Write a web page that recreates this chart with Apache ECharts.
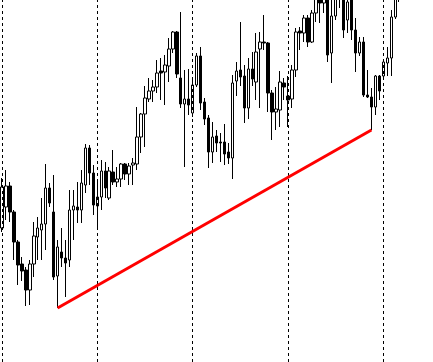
<!DOCTYPE html>
<html>
<head>
<meta charset="utf-8">
<script src="https://cdn.jsdelivr.net/npm/echarts@6/dist/echarts.min.js"></script>
<style>
html,body{margin:0;padding:0;background:#fff;}
#chart{width:433px;height:362px;}
</style>
</head>
<body>
<div id="chart"></div>
<script>
// Bar labels (time axis is not shown in the picture)
const categories = Array.from({length: 109}, (_, i) => 'Bar ' + (i + 1));

// OHLC rows: [open, close, low, high]
const ohlc = [
  [134,175,130,184],[155,176,142,192],[176,150,140,180],[150,120,102,152],[120,97,77,122],
  [98,91,81,105],[92,72,56,95],[72,98,57,102],[98,126,85,140],[125,134,102,145],
  [132,138,102,164],[138,174,112,198],[174,159,155,179],[150,85,82,187],[86,115,54,122],
  [110,104,95,134],[104,99,65,122],[102,152,95,172],[152,156,122,172],[155,152,139,180],
  [152,179,139,192],[177,214,169,218],[214,189,177,217],[189,157,147,197],[156,165,134,182],
  [165,191,152,202],[191,174,164,200],[164,191,162,195],[190,180,177,212],[180,183,175,195],
  [183,198,175,199],[198,188,182,199],[188,196,177,199],[197,199,177,204],[198,225,192,255],
  [225,248,209,249],[248,264,215,276],[263,271,260,284],[271,275,260,282],[275,289,269,302],
  [291,289,262,304],[290,297,257,307],[296,313,280,324],[313,330,309,331],[330,288,284,331],
  [284,258,254,350],[258,263,195,292],[263,257,247,293],[249,277,245,282],[277,306,275,309],
  [306,259,252,315],[260,243,237,264],[244,210,194,247],[210,225,199,240],[226,219,210,232],
  [220,219,200,229],[220,208,197,238],[210,204,198,219],[204,279,183,287],[281,291,266,300],
  [292,285,276,340],[286,254,239,297],[254,293,243,304],[293,283,276,310],[280,310,262,329],
  [313,320,254,330],[320,319,312,347],[319,269,250,320],[269,250,222,272],[250,253,232,275],
  [252,280,235,291],[279,275,262,284],[266,262,235,286],[263,292,254,297],[292,330,285,334],
  [331,329,312,335],[329,344,320,347],[344,320,315,347],[320,349,319,352],[349,364,340,368],
  [366,359,339,372],[359,367,349,372],[366,307,300,370],[309,346,279,364],[346,365,342,370],
  [372,365,354,377],[367,332,324,372],[342,360,329,367],[364,332,322,368],[332,309,290,344],
  [309,320,306,325],[320,267,265,325],[267,265,264,292],[265,255,232,274],[255,286,247,287],
  [286,271,262,287],[286,300,282,302],[299,304,286,315],[304,345,286,352],[345,372,343,377],
  [367,382,360,387]
];

// Vertical period separators (bar indices)
const gridBars = [0, 24, 48, 72, 96];

// Trend line anchors: [bar index, price]
const trendStart = [14, 54];
const trendEnd = [93, 232];

const chart = echarts.init(document.getElementById('chart'), null, {renderer: 'canvas'});
chart.setOption({
  animation: false,
  backgroundColor: '#ffffff',
  grid: {left: -1.5, top: 0, width: 436, height: 362},
  xAxis: {
    type: 'category',
    data: categories,
    boundaryGap: true,
    show: false
  },
  yAxis: {
    type: 'value',
    min: 0,
    max: 362,
    show: false,
    splitLine: {show: false}
  },
  series: [
    {
      type: 'line',
      data: [],
      z: 1,
      silent: true,
      markLine: {
        silent: true,
        symbol: ['none', 'none'],
        label: {show: false},
        lineStyle: {color: '#000000', width: 1, type: [3, 3]},
        data: gridBars.map(b => ({xAxis: categories[b]}))
      }
    },
    {
      type: 'candlestick',
      data: ohlc,
      z: 2,
      clip: true,
      barWidth: 3,
      itemStyle: {
        color: '#ffffff',
        color0: '#000000',
        borderColor: '#000000',
        borderColor0: '#000000',
        borderWidth: 1
      }
    },
    {
      type: 'line',
      data: [],
      z: 3,
      silent: true,
      markLine: {
        silent: true,
        symbol: ['none', 'none'],
        label: {show: false},
        lineStyle: {color: '#ff0000', width: 3, type: 'solid'},
        data: [[
          {coord: [categories[trendStart[0]], trendStart[1]]},
          {coord: [categories[trendEnd[0]], trendEnd[1]]}
        ]]
      }
    }
  ]
});
</script>
</body>
</html>
